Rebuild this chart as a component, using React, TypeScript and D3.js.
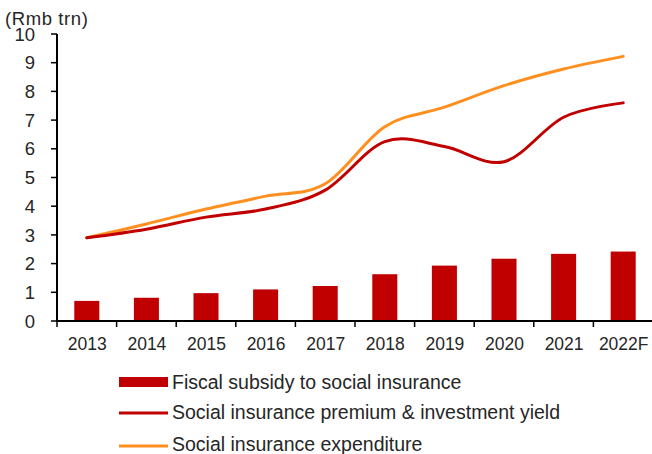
import React from "react";
import * as d3 from "d3";

const categories = ["2013", "2014", "2015", "2016", "2017", "2018", "2019", "2020", "2021", "2022F"];
const fiscalSubsidy = [0.7, 0.81, 0.97, 1.1, 1.22, 1.63, 1.93, 2.17, 2.34, 2.42];
const premiumYield = [2.9, 3.2, 3.62, 3.9, 4.56, 6.25, 6.08, 5.55, 7.1, 7.6];
const expenditure = [2.9, 3.38, 3.9, 4.35, 4.78, 6.77, 7.45, 8.2, 8.78, 9.22];
const yTicks = [0, 1, 2, 3, 4, 5, 6, 7, 8, 9, 10];
const legendLabels = [
  "Fiscal subsidy to social insurance",
  "Social insurance premium & investment yield",
  "Social insurance expenditure",
];

const W = 652;
const H = 454;
const RED = "#C00000";
const ORANGE = "#FF8F1F";
const FONT = "'Liberation Sans', Arial, sans-serif";
const TXT = "#262626";

export default function App() {
  const x = d3.scaleBand<string>().domain(categories).range([57, 653]).padding(0);
  const y = d3.scaleLinear().domain([0, 10]).range([321, 34]);
  const bw = x.bandwidth();
  const barW = bw * 0.42;
  const cx = (c: string) => (x(c) as number) + bw / 2;

  const line = d3
    .line<number>()
    .x((_, i) => cx(categories[i]))
    .y((d) => y(d))
    .curve(d3.curveCardinal.tension(0));

  const boundaries = categories.map((c) => x(c) as number);

  return (
    <svg
      width={W}
      height={H}
      style={{ position: "absolute", left: 0, top: 0, background: "#fff" }}
      fontFamily={FONT}
    >
      <rect x={0} y={0} width={W} height={H} fill="#fff" />
      {/* bars */}
      {fiscalSubsidy.map((v, i) => (
        <rect
          key={categories[i]}
          x={cx(categories[i]) - barW / 2}
          y={y(v)}
          width={barW}
          height={y(0) - y(v)}
          fill={RED}
        />
      ))}
      {/* lines */}
      <path d={line(expenditure) || ""} fill="none" stroke={ORANGE} strokeWidth={3} strokeLinecap="round" />
      <path d={line(premiumYield) || ""} fill="none" stroke={RED} strokeWidth={3} strokeLinecap="round" />

      {/* y axis */}
      <line x1={57} x2={57} y1={y(10)} y2={y(0)} stroke="#000" strokeWidth={2} />
      {yTicks.map((t) => (
        <g key={t}>
          <line x1={51} x2={57} y1={y(t)} y2={y(t)} stroke="#000" strokeWidth={1.5} />
          <text x={35} y={y(t)} dy="0.36em" textAnchor="end" fontSize={18.5} fill={TXT}>
            {t}
          </text>
        </g>
      ))}
      <text x={5} y={25} fontSize={18.5} letterSpacing={0.6} fill={TXT}>
        (Rmb trn)
      </text>

      {/* x axis */}
      <line x1={56} x2={653} y1={y(0)} y2={y(0)} stroke="#000" strokeWidth={2} />
      {boundaries.map((b, i) => (
        <line key={i} x1={b} x2={b} y1={y(0)} y2={y(0) + 6} stroke="#000" strokeWidth={1.5} />
      ))}
      {categories.map((c) => (
        <text key={c} x={cx(c) + 0.5} y={350} textAnchor="middle" fontSize={17.5} fill={TXT}>
          {c}
        </text>
      ))}

      {/* legend */}
      <rect x={119} y={377} width={49} height={10} fill={RED} />
      <text x={172} y={389} fontSize={19.5} fill={TXT}>{legendLabels[0]}</text>
      <line x1={119} x2={168} y1={413} y2={413} stroke={RED} strokeWidth={3} />
      <text x={172} y={419} fontSize={19.5} fill={TXT}>{legendLabels[1]}</text>
      <line x1={119} x2={168} y1={446} y2={446} stroke={ORANGE} strokeWidth={3} />
      <text x={172} y={451} fontSize={19.5} fill={TXT}>{legendLabels[2]}</text>
    </svg>
  );
}
